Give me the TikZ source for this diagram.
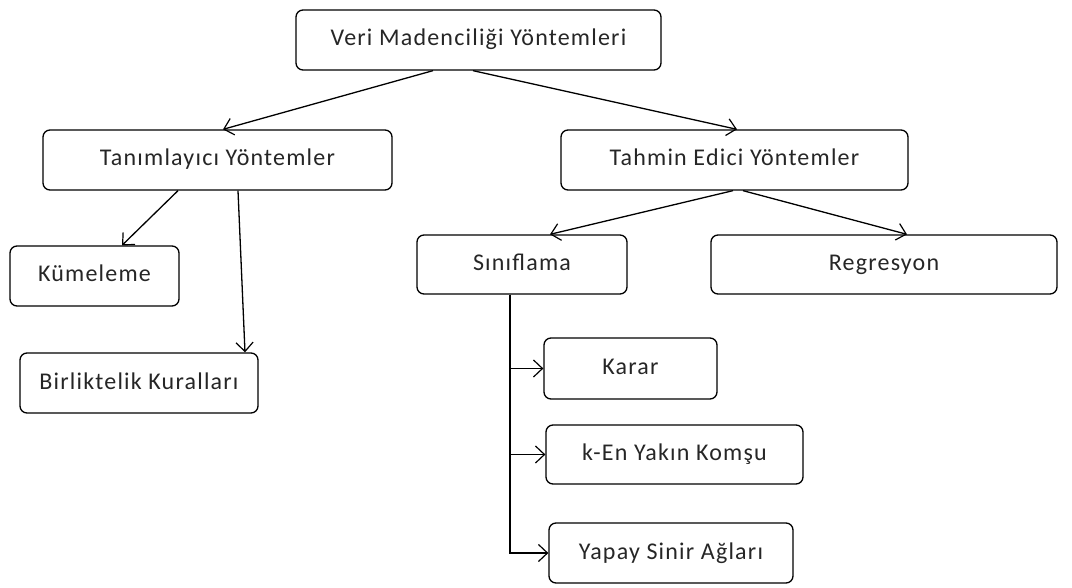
\documentclass[tikz,border=0pt]{standalone}
\usepackage{fontspec}
\setmainfont[LetterSpace=5]{Carlito}
\usetikzlibrary{arrows.meta}
\tikzset{
  kutu/.style={draw, rounded corners=7pt, line width=1.3pt, inner sep=0pt,
    text height=16pt, text depth=4pt, text=black!85,
    font=\fontsize{24}{28}\selectfont},
  ok/.style={line width=1.3pt, -{Straight Barb[length=9pt,width=17pt,line width=1.2pt]}}
}
\begin{document}
\begin{tikzpicture}[x=1pt,y=-1pt]
      \useasboundingbox (0,0) rectangle (1072,588);

      %% top level
      \node[kutu, minimum width=365pt, minimum height=60pt] (vm) at (478.5,40) {Veri Madenciliği Yöntemleri};

      %% second level
      \node[kutu, minimum width=349pt, minimum height=60pt] (tanim) at (217.5,160) {Tanımlayıcı Yöntemler};
      \node[kutu, minimum width=347pt, minimum height=60pt] (tahmin) at (734.5,160) {Tahmin Edici Yöntemler};

      %% descriptive ones
      \node[kutu, minimum width=169pt, minimum height=60pt] (kume) at (94.5,276) {Kümeleme};
      \node[kutu, minimum width=238pt, minimum height=60pt] (birlik) at (139,383) {Birliktelik Kuralları};

      %% predictive ones
      \node[kutu, minimum width=210pt, minimum height=59pt] (sinif) at (522,264.5) {Sınıflama};
      \node[kutu, minimum width=346pt, minimum height=59pt] (regr) at (884,264.5) {Regresyon};

      %% classification methods
      \node[kutu, minimum width=173pt, minimum height=61pt] (karar) at (630.5,368.5) {Karar};
      \node[kutu, minimum width=257pt, minimum height=59pt] (knn) at (674.5,454.5) {k-En Yakın Komşu};
      \node[kutu, minimum width=244pt, minimum height=60pt] (ysa) at (671,553) {Yapay Sinir Ağları};

      %% arrows
      \draw[ok] ([xshift=-45.5pt]vm.south) -- ([xshift=5.5pt]tanim.north);
      \draw[ok] ([xshift=-5.5pt]vm.south) -- ([xshift=2.5pt]tahmin.north);

      \draw[ok] ([xshift=-39.5pt]tanim.south) -- ([xshift=27.5pt]kume.north);
      \draw[ok] ([xshift=20.5pt]tanim.south) -- ([xshift=106pt]birlik.north);

      \draw[ok] ([xshift=-1.5pt]tahmin.south) -- ([xshift=28pt]sinif.north);
      \draw[ok] ([xshift=8.5pt]tahmin.south) -- ([xshift=23pt]regr.north);

      \draw[ok] ([xshift=-12pt]sinif.south) |- (karar.west);
      \draw[ok] ([xshift=-12pt]sinif.south) |- (knn.west);
      \draw[ok] ([xshift=-12pt]sinif.south) |- (ysa.west);
\end{tikzpicture}
\end{document}
